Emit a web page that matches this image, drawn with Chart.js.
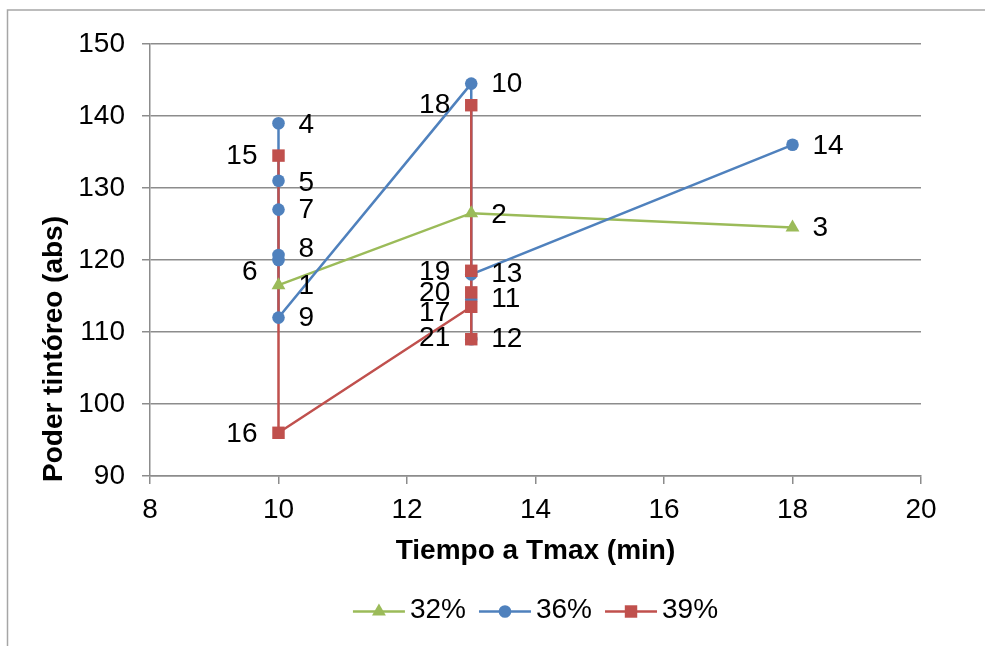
<!DOCTYPE html>
<html>
<head>
<meta charset="utf-8">
<script src="https://cdn.jsdelivr.net/npm/chart.js@4.4.1/dist/chart.umd.min.js"></script>
<style>
  html, body { margin: 0; padding: 0; background: #ffffff; }
  #wrap { width: 985px; height: 646px; position: relative; }
</style>
</head>
<body>
<div id="wrap"><canvas id="grafico" width="985" height="646"></canvas></div>
<script>
// Series: tiempo a Tmax (min) vs poder tintóreo (abs), one point per ensayo
const nombresSeries = ['32%', '36%', '39%'];

const tiempo32 = [10, 13, 18];
const poder32 = [116.5, 126.5, 124.5];
const ensayos32 = ['1', '2', '3'];

const tiempo36 = [10, 10, 10, 10, 10, 10, 13, 13, 13, 13, 18];
const poder36 = [139, 131, 120, 127, 120.7, 112, 144.5, 114.5, 109, 118, 136];
const ensayos36 = ['4', '5', '6', '7', '8', '9', '10', '11', '12', '13', '14'];

const tiempo39 = [10, 10, 13, 13, 13, 13, 13];
const poder39 = [134.5, 96, 113.5, 141.5, 118.5, 115.5, 109];
const ensayos39 = ['15', '16', '17', '18', '19', '20', '21'];

const ticksX = [8, 10, 12, 14, 16, 18, 20];
const ticksY = [90, 100, 110, 120, 130, 140, 150];

const tituloX = 'Tiempo a Tmax (min)';
const tituloY = 'Poder tintóreo (abs)';

// Label placement: side of the marker and a small vertical nudge (px)
const lado32 = ['r', 'r', 'r'];
const nudge32 = [1, 2, 1];
const lado36 = ['r', 'r', 'l', 'r', 'r', 'r', 'r', 'r', 'r', 'r', 'r'];
const nudge36 = [2, 2, 12, 1, -6, 1, 1, 0, 0, 0, 1];
const lado39 = ['l', 'l', 'l', 'l', 'l', 'l', 'l'];
const nudge39 = [1, 1, 6, 0, 1, 1, -1];

const FUENTE = '"Liberation Sans", Arial, Helvetica, sans-serif';
const GRIS = '#8c8c8c';
const colores = ['#9BBB59', '#4F81BD', '#C0504D'];
const marcadores = ['triangle', 'circle', 'rect'];
const radios = [8, 6.3, 8.8];

const pares = (xs, ys) => xs.map((x, i) => ({ x: x, y: ys[i] }));
const puntos = [pares(tiempo32, poder32), pares(tiempo36, poder36), pares(tiempo39, poder39)];
const ensayos = [ensayos32, ensayos36, ensayos39];
const lados = [lado32, lado36, lado39];
const nudges = [nudge32, nudge36, nudge39];

// Lines go underneath every marker; markers are stacked in series order.
const datasets = [];
puntos.forEach((pts, i) => {
  datasets.push({
    label: nombresSeries[i],
    data: pts,
    showLine: true,
    borderColor: colores[i],
    borderWidth: 2.5,
    pointRadius: 0,
    pointHoverRadius: 0,
    order: 10 - i
  });
});
puntos.forEach((pts, i) => {
  datasets.push({
    label: nombresSeries[i],
    data: pts,
    showLine: false,
    pointStyle: marcadores[i],
    pointRadius: radios[i],
    pointHoverRadius: radios[i],
    pointBackgroundColor: colores[i],
    pointBorderColor: colores[i],
    pointBorderWidth: 0,
    order: 3 - i,
    ensayos: ensayos[i],
    lados: lados[i],
    nudges: nudges[i]
  });
});

const marco = {
  id: 'marco',
  beforeDraw(chart) {
    const ctx = chart.ctx;
    ctx.save();
    ctx.fillStyle = '#ffffff';
    ctx.fillRect(0, 0, chart.width, chart.height);
    ctx.strokeStyle = '#a6a6a6';
    ctx.lineWidth = 1.5;
    ctx.beginPath();
    ctx.moveTo(chart.width, 10);
    ctx.lineTo(7.5, 10);
    ctx.lineTo(7.5, chart.height);
    ctx.stroke();
    ctx.restore();
  }
};

const etiquetas = {
  id: 'etiquetas',
  afterDatasetsDraw(chart) {
    const ctx = chart.ctx;
    ctx.save();
    ctx.font = '28px ' + FUENTE;
    ctx.fillStyle = '#000000';
    ctx.textBaseline = 'middle';
    chart.data.datasets.forEach((ds, i) => {
      if (!ds.ensayos) return;
      const meta = chart.getDatasetMeta(i);
      meta.data.forEach((el, j) => {
        const derecha = ds.lados[j] === 'r';
        ctx.textAlign = derecha ? 'left' : 'right';
        ctx.fillText(ds.ensayos[j], el.x + (derecha ? 20 : -21), el.y + ds.nudges[j]);
      });
    });
    ctx.restore();
  }
};

const tituloVertical = {
  id: 'tituloVertical',
  afterDraw(chart) {
    const ctx = chart.ctx;
    ctx.save();
    ctx.font = 'bold 28px ' + FUENTE;
    ctx.fillStyle = '#000000';
    ctx.textAlign = 'center';
    ctx.textBaseline = 'middle';
    ctx.translate(54, 349);
    ctx.rotate(-Math.PI / 2);
    ctx.fillText(tituloY, 0, 0);
    ctx.restore();
  }
};

const leyenda = {
  id: 'leyenda',
  afterDraw(chart) {
    const ctx = chart.ctx;
    const area = chart.chartArea;
    ctx.save();
    ctx.font = '28px ' + FUENTE;
    ctx.textBaseline = 'middle';
    ctx.textAlign = 'left';
    const largo = 52, hueco = 5, separacion = 13, y = 611.5;
    const anchos = nombresSeries.map(n => ctx.measureText(n).width);
    const total = anchos.reduce((a, w) => a + largo + hueco + w, 0) + separacion * (nombresSeries.length - 1);
    let x = (area.left + area.right) / 2 - total / 2;
    nombresSeries.forEach((n, i) => {
      ctx.strokeStyle = colores[i];
      ctx.lineWidth = 2.5;
      ctx.beginPath();
      ctx.moveTo(x, y);
      ctx.lineTo(x + largo, y);
      ctx.stroke();
      ctx.fillStyle = colores[i];
      ctx.strokeStyle = colores[i];
      Chart.helpers.drawPoint(ctx, {
        pointStyle: marcadores[i], radius: radios[i], rotation: 0, borderWidth: 0
      }, x + largo / 2, y);
      ctx.fillStyle = '#000000';
      ctx.fillText(n, x + largo + hueco, y - 1);
      x += largo + hueco + anchos[i] + separacion;
    });
    ctx.restore();
  }
};

new Chart(document.getElementById('grafico'), {
  type: 'scatter',
  data: { datasets: datasets },
  plugins: [marco, etiquetas, tituloVertical, leyenda],
  options: {
    responsive: false,
    animation: false,
    devicePixelRatio: 1,
    layout: { padding: { top: 44, right: 64, bottom: 78, left: 0 } },
    plugins: {
      legend: { display: false },
      tooltip: { enabled: false }
    },
    scales: {
      x: {
        type: 'linear',
        min: ticksX[0],
        max: ticksX[ticksX.length - 1],
        afterBuildTicks: s => { s.ticks = ticksX.map(v => ({ value: v })); },
        afterFit: s => { s.height = 92; },
        ticks: { font: { family: FUENTE, size: 28 }, color: '#000000', padding: 9, maxRotation: 0 },
        grid: { drawOnChartArea: false, drawTicks: true, tickLength: 8, color: GRIS, lineWidth: 1.5 },
        border: { color: GRIS, width: 1.5 },
        title: {
          display: true,
          text: tituloX,
          font: { family: FUENTE, size: 28, weight: 'bold' },
          color: '#000000',
          padding: { top: 0, bottom: 0 }
        }
      },
      y: {
        type: 'linear',
        min: ticksY[0],
        max: ticksY[ticksY.length - 1],
        afterBuildTicks: s => { s.ticks = ticksY.map(v => ({ value: v })); },
        afterFit: s => { s.width = 150; },
        ticks: { font: { family: FUENTE, size: 28 }, color: '#000000', padding: 17 },
        grid: { tickLength: 8, color: GRIS, lineWidth: 1.5 },
        border: { color: GRIS, width: 1.5 }
      }
    }
  }
});
</script>
</body>
</html>
